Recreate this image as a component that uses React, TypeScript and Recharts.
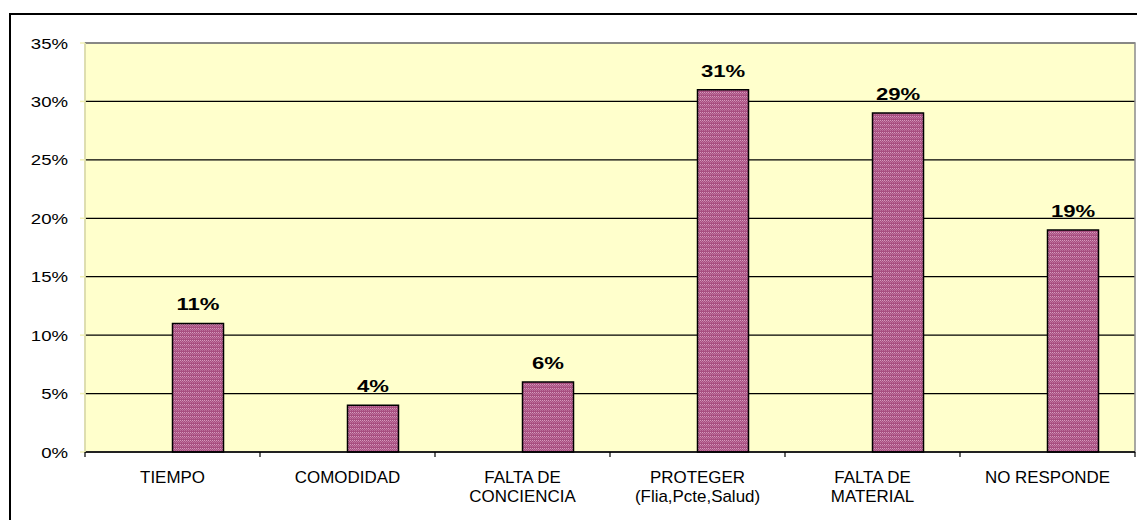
import { Bar, BarChart, CartesianGrid, LabelList, ReferenceArea, XAxis, YAxis } from "recharts";

const categories = [
  "TIEMPO",
  "COMODIDAD",
  "FALTA DE\nCONCIENCIA",
  "PROTEGER\n(Flia,Pcte,Salud)",
  "FALTA DE\nMATERIAL",
  "NO RESPONDE"
];
const percentValues = [11, 4, 6, 31, 29, 19];
// empty first series, Excel left a slot for it so bars sit right of center
const blankValues: Array<number | null> = [null, null, null, null, null, null];
const yTicks = [0, 5, 10, 15, 20, 25, 30, 35];

const data = categories.map((name, i) => ({
  name,
  blank: blankValues[i],
  value: percentValues[i]
}));

const CHART_W = 1137;
const CHART_H = 520;
const Y_AXIS_W = 60;
const margin = { top: 43, right: 2, bottom: 8, left: 25 };
const PLOT_W = CHART_W - margin.left - margin.right - Y_AXIS_W;
const HALF_BAND = PLOT_W / categories.length / 2;

const FONT = "'Liberation Sans', Arial, sans-serif";

function PercentTick({ x, y, payload }: any) {
  return (
    <text
      transform={`translate(${x},${y}) scale(1.2,1)`}
      textAnchor="end"
      dy="0.36em"
      fontSize={15.5}
      fontFamily={FONT}
      fill="#000"
    >
      {payload.value}%
    </text>
  );
}

function CategoryTick({ x, y, payload, index }: any) {
  const lines = String(payload.value).split("\n");
  const mark = (px: number) => (
    <line x1={px} x2={px} y1={y - 5} y2={y} stroke="#000" strokeWidth={1.2} />
  );
  return (
    <g>
      {mark(x - HALF_BAND)}
      {index === categories.length - 1 && mark(x + HALF_BAND)}
      {lines.map((line, i) => (
        <text
          key={i}
          transform={`translate(${x},${y + 26 + i * 19}) scale(1.06,1)`}
          textAnchor="middle"
          fontSize={16}
          fontFamily={FONT}
          fill="#000"
        >
          {line}
        </text>
      ))}
    </g>
  );
}

function ValueLabel({ x, y, width, value }: any) {
  if (value == null) {
    return null;
  }
  const cx = Number(x) + Number(width) / 2;
  return (
    <text
      transform={`translate(${cx},${Number(y) - 13}) scale(1.38,1)`}
      textAnchor="middle"
      fontSize={16}
      fontWeight="bold"
      fontFamily={FONT}
      fill="#000"
    >
      {value}%
    </text>
  );
}

export default function App() {
  return (
    <div
      style={{
        position: "absolute",
        left: 0,
        top: 0,
        width: CHART_W,
        height: CHART_H,
        overflow: "hidden",
        background: "#fff"
      }}
    >
      <div
        style={{
          position: "absolute",
          left: 9,
          top: 13,
          width: 1200,
          height: 600,
          border: "2px solid #000"
        }}
      />
      <div style={{ position: "absolute", left: 0, top: 0 }}>
        <BarChart
          width={CHART_W}
          height={CHART_H}
          data={data}
          margin={margin}
          barGap={0}
          barCategoryGap="20.86%"
        >
          <defs>
            <pattern id="bar-dots" width="4" height="4" patternUnits="userSpaceOnUse">
              <rect width="4" height="4" fill="#A84F80" />
              <rect x="0" y="0" width="1" height="1" fill="#D59ABD" />
              <rect x="2" y="0" width="1" height="1" fill="#D59ABD" />
              <rect x="1" y="1" width="1" height="1" fill="#C27AA3" />
              <rect x="3" y="1" width="1" height="1" fill="#C27AA3" />
              <rect x="0" y="2" width="1" height="1" fill="#BD6F9B" />
              <rect x="2" y="2" width="1" height="1" fill="#BD6F9B" />
            </pattern>
          </defs>
          <CartesianGrid vertical={false} stroke="#000" strokeWidth={1.2} fill="#FFFFCC" fillOpacity={1} />
          <ReferenceArea y1={0} y2={35} fill="none" stroke="#8C8C8C" strokeWidth={1.5} ifOverflow="visible" />
          <XAxis
            dataKey="name"
            interval={0}
            height={60}
            tickLine={false}
            tickSize={5}
            tickMargin={0}
            axisLine={{ stroke: "#000", strokeWidth: 1.5 }}
            tick={<CategoryTick />}
          />
          <YAxis
            width={Y_AXIS_W}
            domain={[0, 35]}
            ticks={yTicks}
            interval={0}
            tickSize={5}
            tickMargin={12}
            axisLine={{ stroke: "#F0F0B4", strokeWidth: 1.5 }}
            tickLine={{ stroke: "#F0F0B4", strokeWidth: 1.5 }}
            tick={<PercentTick />}
          />
          <Bar dataKey="blank" fill="none" isAnimationActive={false} />
          <Bar
            dataKey="value"
            fill="url(#bar-dots)"
            stroke="#000"
            strokeWidth={1.5}
            isAnimationActive={false}
          >
            <LabelList dataKey="value" content={<ValueLabel />} />
          </Bar>
        </BarChart>
      </div>
    </div>
  );
}
